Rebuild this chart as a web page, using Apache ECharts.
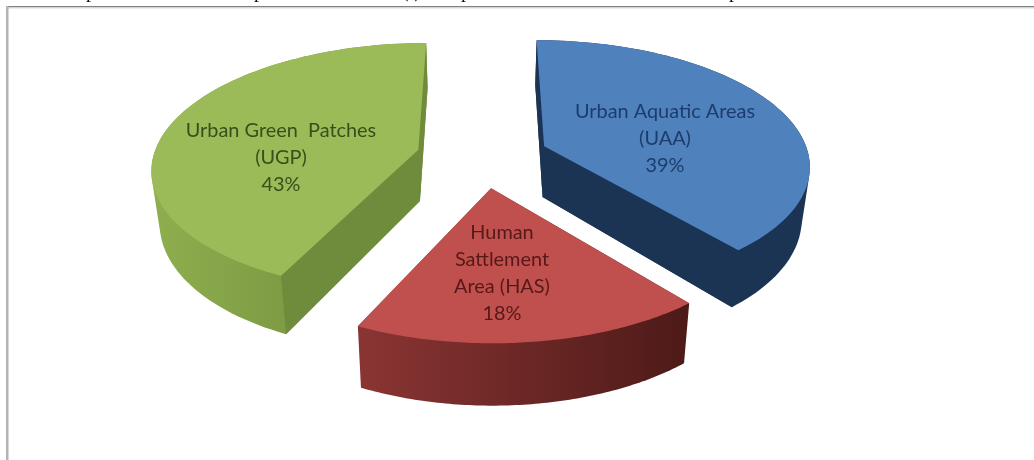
<!DOCTYPE html>
<html>
<head>
<meta charset="utf-8">
<style>html,body{margin:0;padding:0;background:#fff}#c{width:1034px;height:460px}</style>
<script src="https://cdn.jsdelivr.net/npm/echarts@6/dist/echarts.min.js"></script>
</head>
<body>
<div id="c"></div>
<script>
// data
const sliceNames = ['Urban Aquatic Areas\n(UAA)', 'Human\nSattlement\nArea (HAS)', 'Urban Green  Patches\n(UGP)'];
const sliceValues = [39, 18, 43];
// styles
const topColors = ['#4f81bd', '#c0504d', '#9bbb59'];
const wallColors = ['#1c3454', '#5e2120', '#6f8b3c'];
const arcStops = [
  ['#1c3454', '#1c3454'],
  ['#8a3533', '#4d1a18'],
  ['#8fae4e', '#6d8839']
];
const textColors = ['#1d3c6c', '#561818', '#35501b'];
// label anchors (pixel layout, not data)
const labelX = [665, 502, 281];
const labelY = [139, 273, 158];
// projection of the tilted pie
const view = {x0: 482.5, y0: 156.5, A: 265, B: 123.5, p: 0.14, explode: 0.25, depth: 51.5, shrink: 0.975};

const total = sliceValues.reduce((a, b) => a + b, 0);
const startAngles = [];
sliceValues.reduce((acc, v, i) => { startAngles[i] = acc; return acc + v / total * 2 * Math.PI; }, 0);

function proj(X, Y, low) {
  const s = 1 / (1 - view.p * Y);
  const k = low ? view.shrink : 1;
  return [view.x0 + view.A * X * s * k, view.y0 + view.B * Y * s + (low ? view.depth * s : 0)];
}

// outline of the extruded wedge, so that its silhouette joins top and bottom arcs smoothly
function hull(points) {
  const pts = points.slice().sort((a, b) => a[0] - b[0] || a[1] - b[1]);
  const cross = (o, a, b) => (a[0] - o[0]) * (b[1] - o[1]) - (a[1] - o[1]) * (b[0] - o[0]);
  const half = list => {
    const out = [];
    list.forEach(p => {
      while (out.length > 1 && cross(out[out.length - 2], out[out.length - 1], p) <= 0) out.pop();
      out.push(p);
    });
    out.pop();
    return out;
  };
  return half(pts).concat(half(pts.slice().reverse()));
}

// signed turn of a radial wall on screen: tells whether the wall faces the viewer
function wallTurn(apexT, top, low) {
  return (top[0] - apexT[0]) * (low[1] - top[1]) - (top[1] - apexT[1]) * (low[0] - top[0]);
}

function renderSlice(params, api) {
  const i = params.dataIndex;
  const a0 = startAngles[i];
  const a1 = a0 + api.value(0) / total * 2 * Math.PI;
  const mid = (a0 + a1) / 2;
  const ex = Math.sin(mid) * view.explode, ey = -Math.cos(mid) * view.explode;
  const N = 90;
  const topArc = [], lowArc = [];
  for (let k = 0; k <= N; k++) {
    const t = a0 + (a1 - a0) * k / N;
    const X = ex + Math.sin(t), Y = ey - Math.cos(t);
    topArc.push(proj(X, Y, false));
    lowArc.push(proj(X, Y, true));
  }
  const apexT = proj(ex, ey, false), apexL = proj(ex, ey, true);
  const poly = (pts, fill) => ({type: 'polygon', shape: {points: pts}, style: {fill: fill, stroke: null}});
  const grad = {type: 'linear', x: 0, y: 0, x2: 1, y2: 0,
    colorStops: [{offset: 0, color: arcStops[i][0]}, {offset: 1, color: arcStops[i][1]}]};
  const children = [poly(hull(topArc.concat(lowArc, [apexT, apexL])), grad)];
  if (wallTurn(apexT, topArc[0], lowArc[0]) < 0) children.push(poly([apexT, topArc[0], lowArc[0], apexL], wallColors[i]));
  if (wallTurn(apexT, topArc[N], lowArc[N]) > 0) children.push(poly([apexT, topArc[N], lowArc[N], apexL], wallColors[i]));
  children.push(poly([apexT].concat(topArc), topColors[i]));
  children.push({type: 'text', style: {
    x: labelX[i], y: labelY[i],
    text: api.value(1) + '\n' + api.value(0) + '%',
    font: '19.9px Lato', fill: textColors[i],
    align: 'center', verticalAlign: 'middle', lineHeight: 27
  }});
  return {type: 'group', children: children};
}

const cutGlyph = (x, t) => ({type: 'text', z: 1, style: {x: x, y: -18, text: t, font: '20px "Liberation Serif"', fill: '#111'}});

const chart = echarts.init(document.getElementById('c'), null, {width: 1034, height: 460});
chart.setOption({
  backgroundColor: '#ffffff',
  animation: false,
  graphic: [
    cutGlyph(86, 'p'), cutGlyph(254, 'p'), cutGlyph(402, '(i)'), cutGlyph(461, 'p'), cutGlyph(729, 'p'),
    {type: 'rect', z: 2, shape: {x: 0, y: 6, width: 1034, height: 2}, style: {fill: '#fff'}},
    {type: 'rect', z: 3, shape: {x: 6, y: 6, width: 1028, height: 1.5}, style: {fill: '#808080'}},
    {type: 'rect', z: 3, shape: {x: 6, y: 7.5, width: 1028, height: 1.5}, style: {fill: '#ececec'}},
    {type: 'rect', z: 3, shape: {x: 6, y: 6, width: 2.5, height: 454}, style: {fill: '#b4b4b4'}}
  ],
  series: [{
    type: 'custom',
    coordinateSystem: 'none',
    silent: true,
    renderItem: renderSlice,
    data: sliceValues.map((v, i) => [v, sliceNames[i]])
  }]
});
</script>
</body>
</html>
